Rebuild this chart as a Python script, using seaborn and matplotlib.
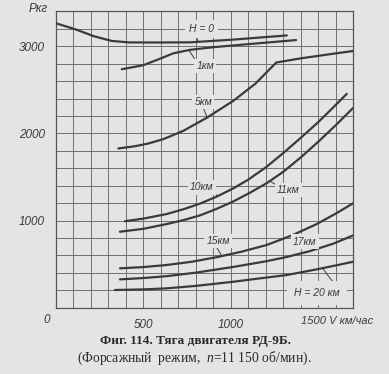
import numpy as np
import pandas as pd
import matplotlib
matplotlib.use("Agg")
import matplotlib.pyplot as plt
import seaborn as sns

# Тяга двигателя РД-9Б, P (кг) от V (км/час) на разных высотах
v_h0 = [0, 60, 120, 220, 320, 420, 600, 768, 1000, 1320]
p_h0 = [3265, 3228, 3190, 3115, 3062, 3045, 3044, 3046, 3075, 3125]

v_h1 = [377, 500, 580, 672, 768, 900, 1100, 1373]
p_h1 = [2737, 2783, 2845, 2920, 2960, 2990, 3025, 3072]

v_h5 = [358, 450, 530, 615, 729, 863, 1015, 1140, 1260, 1400, 1550, 1700]
p_h5 = [1828, 1852, 1885, 1935, 2030, 2180, 2375, 2570, 2814, 2862, 2905, 2947]

v_h10 = [396, 500, 634, 730, 825, 920, 1015, 1100, 1200, 1300, 1400, 1500, 1586, 1663]
p_h10 = [993, 1022, 1075, 1130, 1195, 1275, 1370, 1470, 1610, 1775, 1950, 2130, 2300, 2455]

v_h11 = [367, 500, 634, 730, 825, 920, 1015, 1110, 1206, 1300, 1400, 1500, 1600, 1700]
p_h11 = [872, 905, 960, 1005, 1060, 1135, 1220, 1320, 1430, 1560, 1725, 1905, 2095, 2295]

v_h15 = [367, 500, 634, 780, 920, 1060, 1206, 1350, 1491, 1600, 1700]
p_h15 = [452, 466, 490, 528, 580, 642, 720, 830, 960, 1080, 1200]

v_h17 = [367, 500, 634, 800, 1015, 1200, 1320, 1450, 1586, 1700]
p_h17 = [325, 340, 362, 402, 468, 532, 582, 648, 735, 830]

v_h20 = [339, 500, 634, 800, 1015, 1200, 1320, 1491, 1600, 1700]
p_h20 = [203, 210, 222, 250, 298, 345, 375, 440, 485, 528]

curves = {"0": (v_h0, p_h0), "1": (v_h1, p_h1), "5": (v_h5, p_h5),
          "10": (v_h10, p_h10), "11": (v_h11, p_h11), "15": (v_h15, p_h15),
          "17": (v_h17, p_h17), "20": (v_h20, p_h20)}

rows = []
for h, (vs, ps) in curves.items():
    for v, p in zip(vs, ps):
        rows.append({"H": h, "V": v, "P": p})
df = pd.DataFrame(rows)

paper = "#e4e4e2"
ink = "#3a3a3a"
grid_c = "#707070"

sns.set_style("white")
plt.rcParams["font.family"] = ["Liberation Sans", "DejaVu Sans"]
plt.rcParams["mathtext.fontset"] = "custom"
plt.rcParams["mathtext.it"] = "Liberation Serif:italic"
plt.rcParams["mathtext.rm"] = "Liberation Serif"

fig = plt.figure(figsize=(3.89, 3.74), dpi=100, facecolor=paper)
ax = fig.add_axes([0.1432, 0.1773, 0.765, 0.792])
ax.set_facecolor(paper)

sns.lineplot(data=df, x="V", y="P", hue="H", palette=[ink] * len(curves),
             sort=False, estimator=None, legend=False, linewidth=1.6, ax=ax,
             zorder=3)

ax.set_xlim(0, 1700)
ax.set_ylim(0, 3400)
ax.set_xticks(np.arange(0, 1701, 100))
ax.set_yticks(np.arange(0, 3401, 200))
ax.set_xticklabels(["500" if t == 500 else "1000" if t == 1000 else ""
                    for t in range(0, 1701, 100)])
ax.set_yticklabels([str(t) if t in (1000, 2000, 3000) else ""
                    for t in range(0, 3401, 200)])
ax.tick_params(length=0, labelsize=8.5, colors=ink)
ax.tick_params(axis="x", pad=8)
ax.tick_params(axis="y", pad=8)
for lab in ax.get_xticklabels() + ax.get_yticklabels():
    lab.set_fontstyle("italic")
ax.grid(True, color=grid_c, linewidth=0.7)
for s in ax.spines.values():
    s.set_color("#555555")
    s.set_linewidth(0.9)
ax.set_xlabel("")
ax.set_ylabel("")

ax.text(-50, -140, "0", ha="center", va="center", fontsize=8.5,
        style="italic", color=ink, clip_on=False)
ax.text(1400, -155, "1500 V км/час", ha="left", va="center", fontsize=8,
        style="italic", color=ink, clip_on=False)
fig.text(38 / 389, 1 - 9 / 374, "Pкг", ha="center", va="center",
         fontsize=8.5, style="italic", color=ink)

# подписи кривых с выносками
labels = [
    ("H = 0", (833, 3196), (796, 3140), (815, 3050), 3),
    ("1км", (854, 2771), (805, 2821), (760, 2958), 1.5),
    ("5км", (843, 2365), (841, 2300), (866, 2185), 1.5),
    ("10км", (834, 1380), (900, 1325), (925, 1280), 1.5),
    ("11км", (1330, 1350), (1270, 1400), (1225, 1450), 1.5),
    ("15км", (929, 765), (915, 705), (950, 592), 1.5),
    ("17км", (1424, 759), (1410, 715), (1480, 665), 1.5),
    ("H = 20 км", (1493, 169), (1606, 235), (1525, 452), 5),
]
for txt, (tx, ty), (ax0, ay0), (ax1, ay1), pad in labels:
    ax.plot([ax0, ax1], [ay0, ay1], color=ink, linewidth=0.7, zorder=4)
    ax.text(tx, ty, txt, ha="center", va="center", fontsize=7.5,
            style="italic", color=ink, zorder=5,
            bbox=dict(facecolor=paper, edgecolor="none", pad=pad))

fig.text(196 / 389, 1 - 341 / 374, "Фиг. 114. Тяга двигателя РД-9Б.",
         ha="center", va="center", fontsize=9.5, fontweight="bold",
         family="Liberation Serif", color="#2a2a2a")
fig.text(194 / 389, 1 - 358 / 374,
         "(Форсажный  режим,  $n$=11 150 об/мин).",
         ha="center", va="center", fontsize=9.8,
         family="Liberation Serif", color="#2a2a2a")

fig.savefig("out.png", dpi=100, facecolor=paper)
